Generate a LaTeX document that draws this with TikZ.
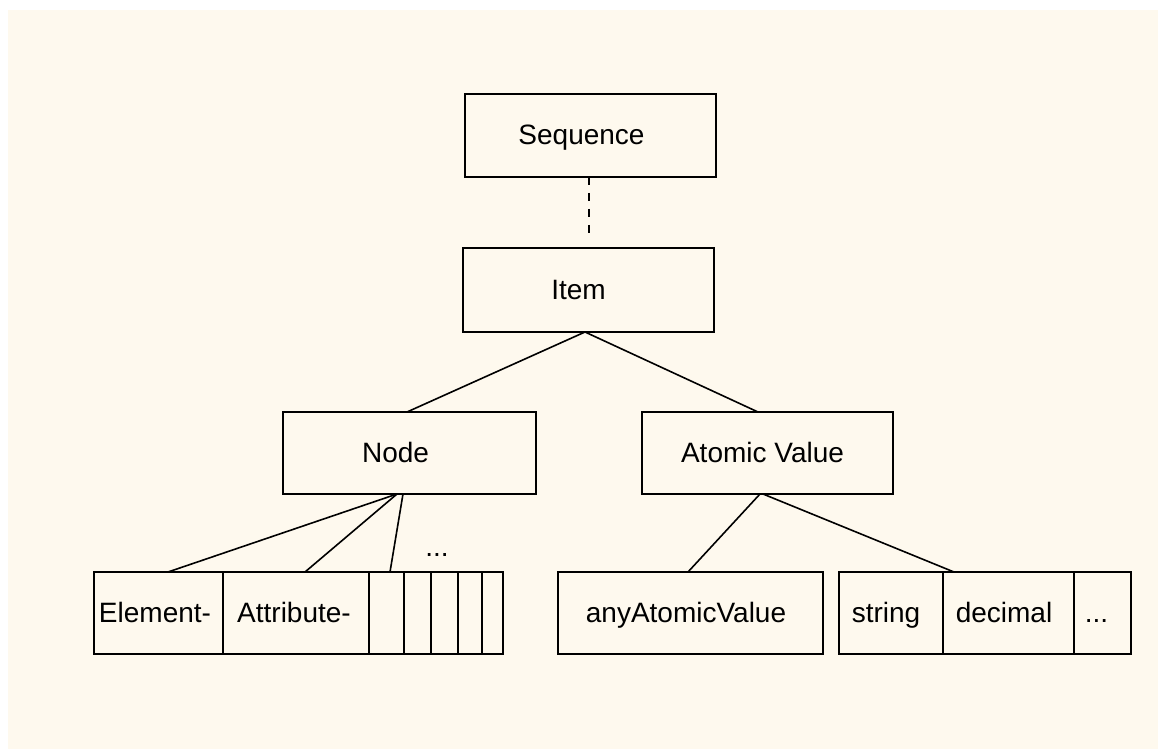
\documentclass[tikz,border=0pt]{standalone}
\usepackage{fontspec}
\setmainfont{Liberation Sans}
\usetikzlibrary{calc}
\definecolor{bgcream}{RGB}{254,249,238}
\begin{document}
\begin{tikzpicture}[x=0.5pt,y=-0.5pt,
  box/.style={draw=black, line width=1pt, inner sep=0pt, outer sep=0pt,
    anchor=north west, text height=0.95em, text depth=0pt,
    font=\fontsize{14pt}{16pt}\selectfont},
  link/.style={draw=black, line width=0.8pt},
  dots/.style={inner sep=0pt, anchor=base, font=\fontsize{14pt}{16pt}\selectfont}]
\useasboundingbox (0,0) rectangle (1158,749);
\fill[white] (0,0) rectangle (1158,749);
\fill[bgcream] (8,10) rectangle (1158,749);
% upper boxes
\node[box, minimum width=125.5pt, minimum height=41.5pt] (seq) at (465,94) {Sequence\hspace*{9pt}};
\node[box, minimum width=125.5pt, minimum height=42pt] (item) at (463,248) {Item\hspace*{10pt}};
\node[box, minimum width=126.5pt, minimum height=41pt] (node) at (283,412) {Node\hspace*{14pt}};
\node[box, minimum width=125.5pt, minimum height=41pt] (atomic) at (642,412) {Atomic Value\hspace*{5pt}};
% left bottom group
\node[box, minimum width=64.5pt, minimum height=41pt] (el) at (94,572) {Element-\hspace*{3.5pt}};
\node[box, minimum width=73pt, minimum height=41pt] (attr) at (223,572) {Attribute-\hspace*{2pt}};
\node[box, minimum width=17.5pt, minimum height=41pt] (c1) at (369,572) {};
\node[box, minimum width=13.5pt, minimum height=41pt] (c2) at (404,572) {};
\node[box, minimum width=13.5pt, minimum height=41pt] (c3) at (431,572) {};
\node[box, minimum width=12pt, minimum height=41pt] (c4) at (458,572) {};
\node[box, minimum width=10.5pt, minimum height=41pt] (c5) at (482,572) {};
\node[dots] (more) at (437,556) {...};
% right bottom group
\node[box, minimum width=132.5pt, minimum height=41pt] (any) at (558,572) {anyAtomicValue\hspace*{4.5pt}};
\node[box, minimum width=52pt, minimum height=41pt] (str) at (839,572) {string\hspace*{5pt}};
\node[box, minimum width=65.5pt, minimum height=41pt] (dec) at (943,572) {decimal\hspace*{4.5pt}};
\node[box, minimum width=28.5pt, minimum height=41pt] (etc) at (1074,572) {...\hspace*{6pt}};
% connectors
\draw[link, line width=1pt, dash pattern=on 4pt off 4pt] (seq.south -| item.north) -- ($(item.north)+(0,-9)$);
\draw[link] ($(item.south)+(-3.5,0)$) -- ($(node.north)+(-2.5,0)$);
\draw[link] ($(item.south)+(-3.5,0)$) -- ($(atomic.north)+(-9.5,0)$);
\draw[link] ($(node.south)+(-12.5,0)$) -- ($(el.north)+(9.5,0)$);
\draw[link] ($(node.south)+(-12.5,0)$) -- ($(attr.north)+(9,0)$);
\draw[link] ($(node.south)+(-6.5,0)$) -- ($(c1.north)+(3.5,0)$);
\draw[link] ($(atomic.south)+(-7.5,0)$) -- ($(any.north)+(-2.5,0)$);
\draw[link] ($(atomic.south)+(-4.5,0)$) -- ($(dec.north west)+(11,0)$);
\end{tikzpicture}
\end{document}
